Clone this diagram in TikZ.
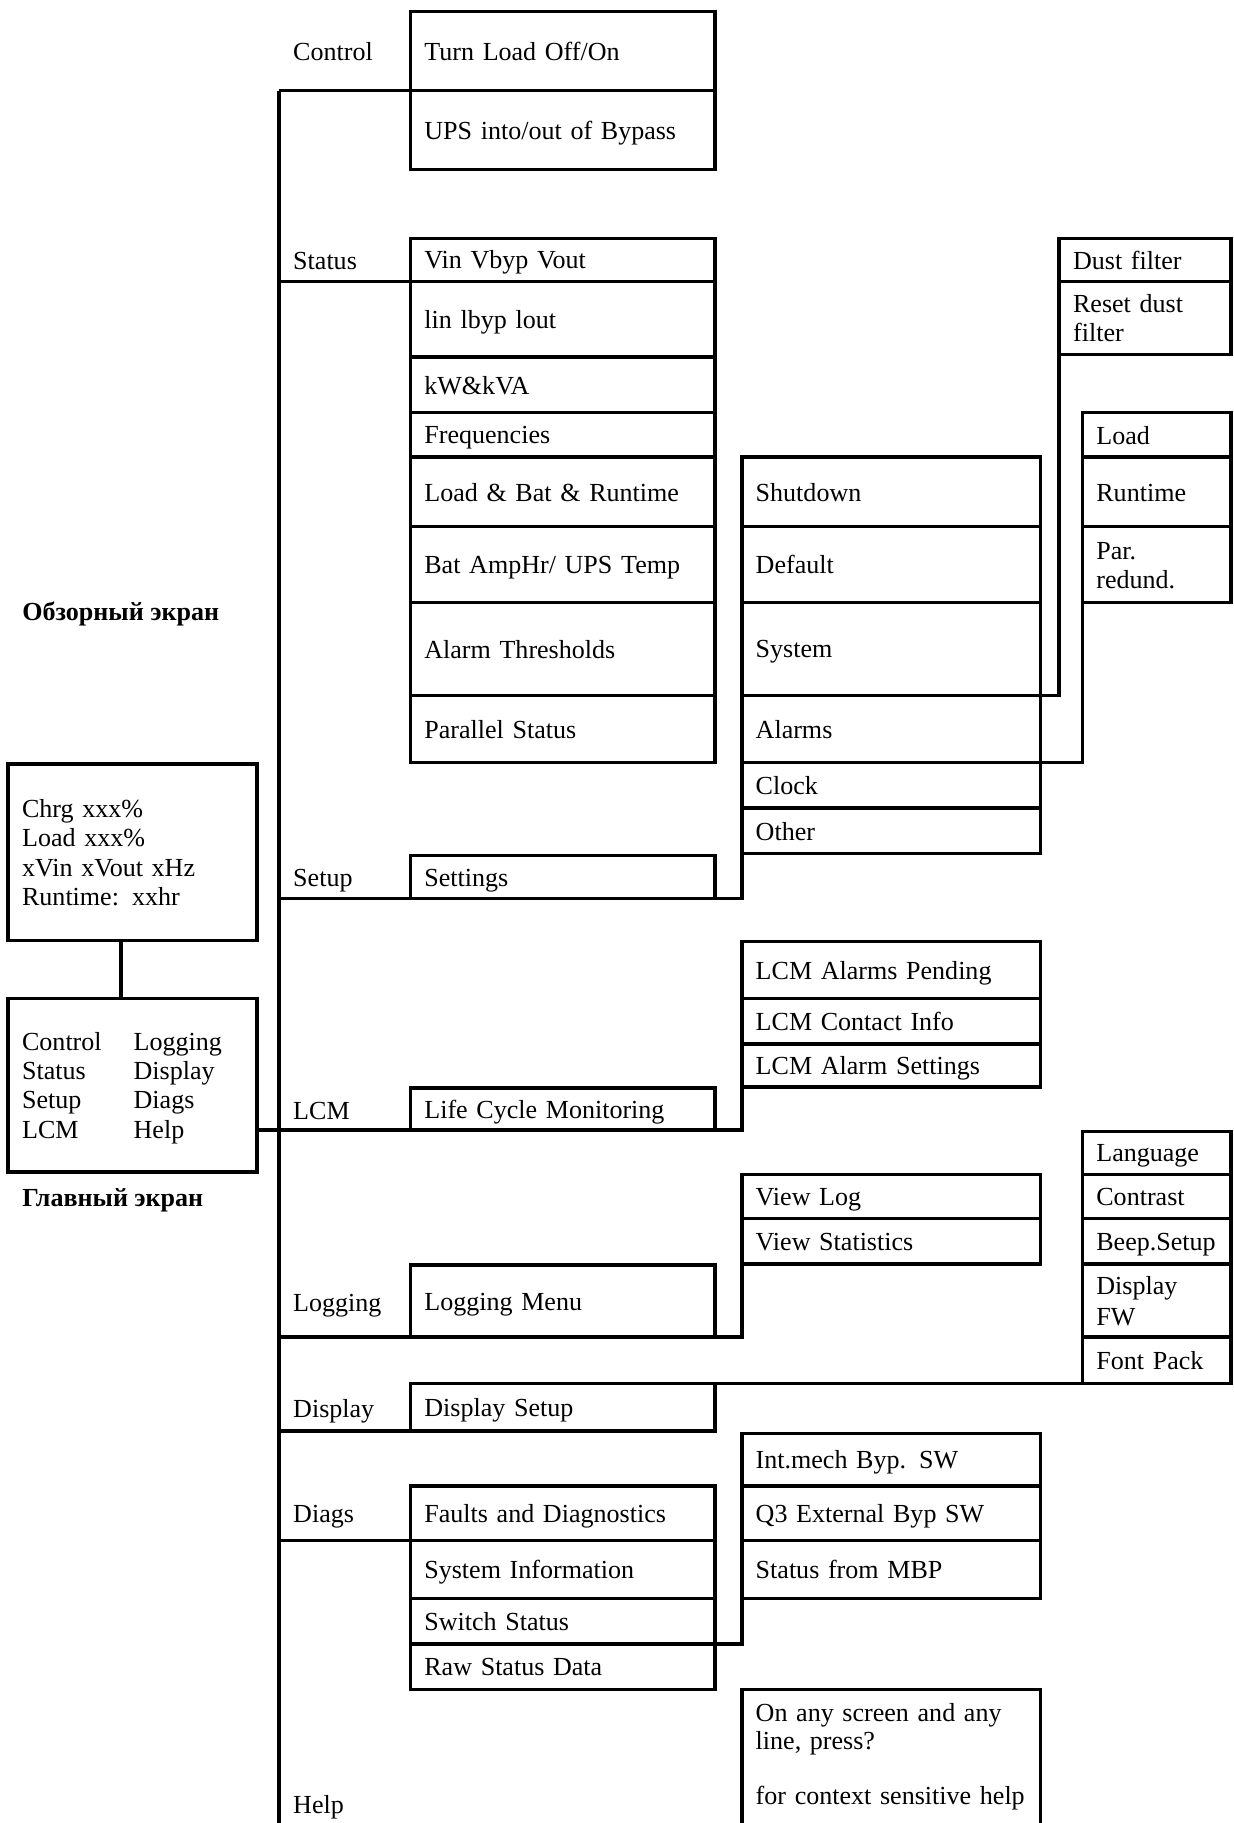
\documentclass[tikz,border=0pt]{standalone}
\usepackage{fontspec}
\setmainfont{Liberation Serif}
\newcommand\boxstrut{\rule[-4.5pt]{0pt}{25pt}}
\tikzset{
  menubox/.style={draw, line width=3pt, outer sep=0pt, anchor=north west, inner xsep=12pt, inner ysep=0pt, align=left,
    execute at begin node=\boxstrut, execute at end node=\boxstrut},
  col1/.style={menubox, minimum width=262pt, text width=238pt},
  col2/.style={menubox, minimum width=257pt, text width=233pt},
  col3/.style={menubox, minimum width=128pt, text width=104pt},
  col3w/.style={menubox, minimum width=148pt, text width=124pt},
  scrbox/.style={menubox, minimum width=214pt, text width=190pt},
  side/.style={anchor=west, inner sep=0pt, execute at begin node=\boxstrut},
  heading/.style={side, font=\fontsize{22.4}{25}\selectfont\bfseries},
  link/.style={line width=3pt},
}
\begin{document}
\begin{tikzpicture}[x=1pt, y=-1pt, font=\fontsize{22.4}{25}\selectfont]
\useasboundingbox (0,0) rectangle (1061,1568);
\clip (0,0) rectangle (1061,1568);
\node[scrbox, minimum height=152pt] (ovw) at (7,657) {Chrg xxx\%\\Load xxx\%\\xVin xVout xHz\\Runtime: xxhr};
\node[scrbox, minimum height=149pt] (mnu) at (7,859) {\makebox[96pt][l]{Control}Logging\\\makebox[96pt][l]{Status}Display\\\makebox[96pt][l]{Setup}Diags\\\makebox[96pt][l]{LCM}Help};
\node[heading] (hovw) at (19,526) {Обзорный экран};
\node[heading] (hmnu) at (19,1030) {Главный экран};
\node[col1, minimum height=68pt] (tlo) at (353,10) {Turn Load Off/On};
\node[col1, minimum height=68pt] (ups) at (tlo.south west) {UPS into/out of Bypass};
\node[col1, minimum height=37pt] (vin) at (353,205) {Vin Vbyp Vout};
\node[col1, minimum height=65pt] (iin) at (vin.south west) {lin lbyp lout};
\node[col1, minimum height=48pt] (kwa) at (iin.south west) {kW\&kVA};
\node[col1, minimum height=38pt] (frq) at (kwa.south west) {Frequencies};
\node[col1, minimum height=60pt] (lbr) at (frq.south west) {Load \& Bat \& Runtime};
\node[col1, minimum height=65pt] (bah) at (lbr.south west) {Bat AmpHr/ UPS Temp};
\node[col1, minimum height=80pt] (ath) at (bah.south west) {Alarm Thresholds};
\node[col1, minimum height=58pt] (pst) at (ath.south west) {Parallel Status};
\node[col1, minimum height=37pt] (stg) at (353,736) {Settings};
\node[col1, minimum height=36pt] (lcm) at (353,936) {Life Cycle Monitoring};
\node[col1, minimum height=62pt] (lgm) at (353,1088) {Logging Menu};
\node[col1, minimum height=41pt] (dsp) at (353,1190) {Display Setup};
\node[col1, minimum height=47pt] (fad) at (353,1278) {Faults and Diagnostics};
\node[col1, minimum height=50pt] (sin) at (fad.south west) {System Information};
\node[col1, minimum height=39pt] (sws) at (sin.south west) {Switch Status};
\node[col1, minimum height=39pt] (rsd) at (sws.south west) {Raw Status Data};
\node[col2, minimum height=60pt] (shd) at (638,393) {Shutdown};
\node[col2, minimum height=65pt] (dft) at (shd.south west) {Default};
\node[col2, minimum height=80pt] (sys) at (dft.south west) {System};
\node[col2, minimum height=58pt] (alm) at (sys.south west) {Alarms};
\node[col2, minimum height=39pt] (clk) at (alm.south west) {Clock};
\node[col2, minimum height=39pt] (oth) at (clk.south west) {Other};
\node[col2, minimum height=49pt] (lap) at (638,810) {LCM Alarms Pending};
\node[col2, minimum height=39pt] (lci) at (lap.south west) {LCM Contact Info};
\node[col2, minimum height=37pt] (las) at (lci.south west) {LCM Alarm Settings};
\node[col2, minimum height=38pt] (vlg) at (638,1010) {View Log};
\node[col2, minimum height=39pt] (vst) at (vlg.south west) {View Statistics};
\node[col2, minimum height=45pt] (imb) at (638,1233) {Int.mech Byp. SW};
\node[col2, minimum height=47pt] (q3e) at (imb.south west) {Q3 External Byp SW};
\node[col2, minimum height=50pt] (mbp) at (q3e.south west) {Status from MBP};
\node[col2, minimum height=0pt, inner ysep=7pt, text depth=140pt, execute at begin node={}, execute at end node={}] (hlp) at (638,1453) {On any screen and any\\[-1pt]line, press?\\[21pt]\mbox{for context sensitive help}};
\node[col3w, minimum height=37pt] (dus) at (911,205) {Dust filter};
\node[col3w, minimum height=63pt] (rdf) at (dus.south west) {Reset dust filter};
\node[col3, minimum height=38pt] (lod) at (931,355) {Load};
\node[col3, minimum height=60pt] (rnt) at (lod.south west) {Runtime};
\node[col3, minimum height=65pt] (prd) at (rnt.south west) {Par. redund.};
\node[col3, minimum height=37pt] (lng) at (931,973) {Language};
\node[col3, minimum height=38pt] (cst) at (lng.south west) {Contrast};
\node[col3, minimum height=39pt] (bep) at (cst.south west) {Beep.Setup};
\node[col3, minimum height=63pt] (dfw) at (bep.south west) {Display FW};
\node[col3, minimum height=40pt] (fpk) at (dfw.south west) {Font Pack};
\node[side] (lctl) at (252,44) {Control};
\node[side] (lsta) at (252,224) {Status};
\node[side] (lset) at (252,755) {Setup};
\node[side] (llcm) at (252,955) {LCM};
\node[side] (llog) at (252,1120) {Logging};
\node[side] (ldsp) at (252,1211) {Display};
\node[side] (ldia) at (252,1302) {Diags};
\node[side] (lhlp) at (252,1552) {Help};
\coordinate (ttop) at (240,78);
\coordinate (tbot) at (240,1590);
\draw[link] (ttop) -- (tbot);
\draw[link] ([xshift=-10pt]ovw.south) -- ([xshift=-10pt]mnu.north);
\draw[link] (ttop) -- (ups.north west);
\draw[link] (ttop |- vin.south) -- (vin.south west);
\draw[link] (ttop |- stg.south) -- (stg.south west);
\draw[link] (stg.south east) -| (oth.south west);
\draw[link] (sys.south east) -| (rdf.south west);
\draw[link] (alm.south east) -| (prd.south west);
\draw[link] (mnu.east |- lcm.south) -- (lcm.south west);
\draw[link] (lcm.south east) -| (las.south west);
\draw[link] (ttop |- lgm.south) -- (lgm.south west);
\draw[link] (lgm.south east) -| (vst.south west);
\draw[link] (ttop |- dsp.south) -- (dsp.south west);
\draw[link] (dsp.north east) -| (fpk.south west);
\draw[link] (ttop |- fad.south) -- (fad.south west);
\draw[link] (sws.south east) -| (mbp.south west);
\end{tikzpicture}
\end{document}
